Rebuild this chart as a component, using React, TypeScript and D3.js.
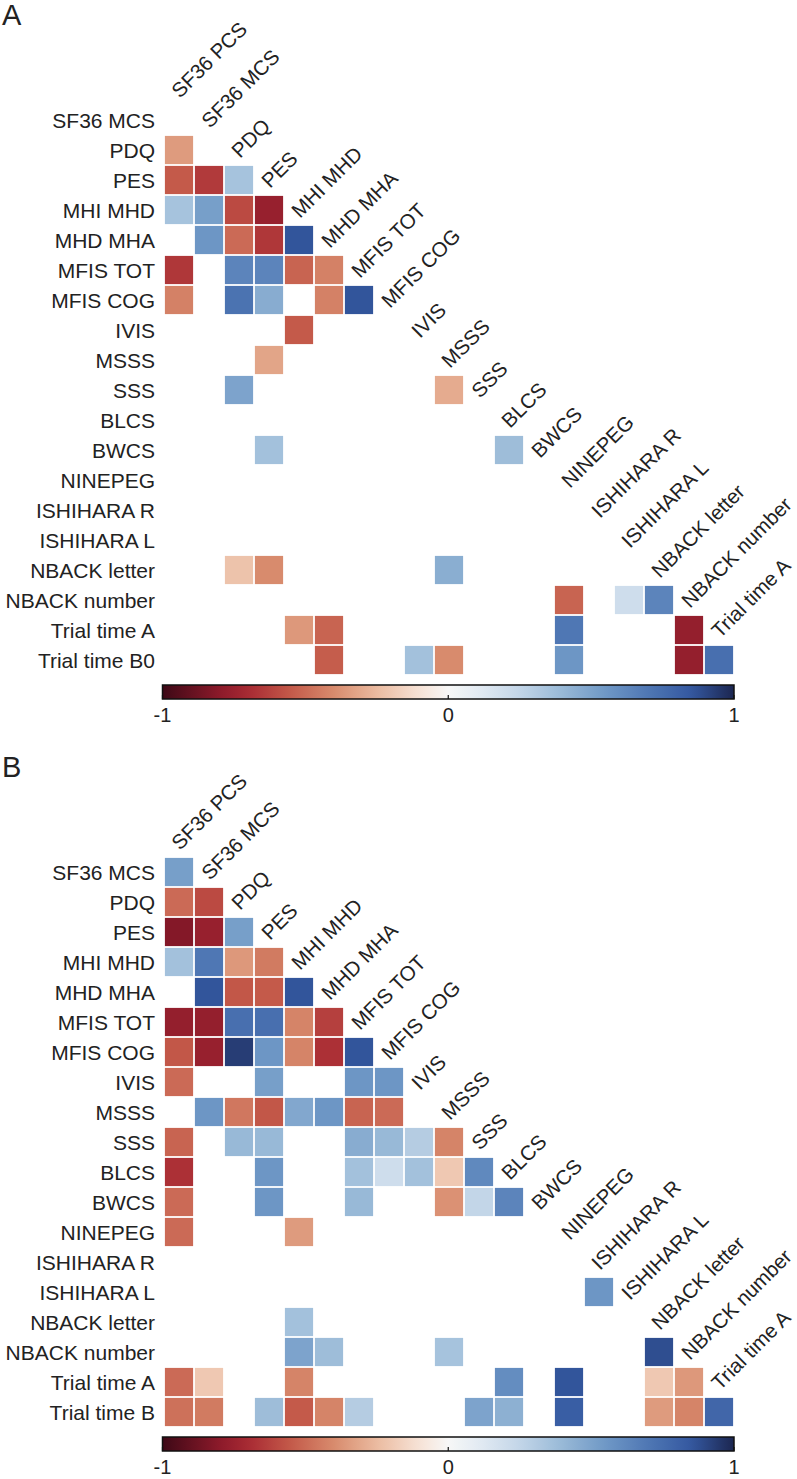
import React from "react";
import * as d3 from "d3";

// Variables (columns use indexes 0..18, rows use 1..19)
const colLabels = [
  "SF36 PCS", "SF36 MCS", "PDQ", "PES", "MHI MHD", "MHD MHA", "MFIS TOT", "MFIS COG",
  "IVIS", "MSSS", "SSS", "BLCS", "BWCS", "NINEPEG", "ISHIHARA R", "ISHIHARA L",
  "NBACK letter", "NBACK number", "Trial time A",
];
const rowLabelsA = [
  "SF36 MCS", "PDQ", "PES", "MHI MHD", "MHD MHA", "MFIS TOT", "MFIS COG", "IVIS", "MSSS",
  "SSS", "BLCS", "BWCS", "NINEPEG", "ISHIHARA R", "ISHIHARA L", "NBACK letter",
  "NBACK number", "Trial time A", "Trial time B0",
];
const rowLabelsB = [
  "SF36 MCS", "PDQ", "PES", "MHI MHD", "MHD MHA", "MFIS TOT", "MFIS COG", "IVIS", "MSSS",
  "SSS", "BLCS", "BWCS", "NINEPEG", "ISHIHARA R", "ISHIHARA L", "NBACK letter",
  "NBACK number", "Trial time A", "Trial time B",
];

// [row index (0 = SF36 MCS), column index (0 = SF36 PCS), correlation]
const cellsA: [number, number, number][] = [
  [1, 0, -0.35],
  [2, 0, -0.55], [2, 1, -0.65], [2, 2, 0.35],
  [3, 0, 0.35], [3, 1, 0.52], [3, 2, -0.6], [3, 3, -0.76],
  [4, 1, 0.56], [4, 2, -0.5], [4, 3, -0.66], [4, 4, 0.86],
  [5, 0, -0.66], [5, 2, 0.64], [5, 3, 0.64], [5, 4, -0.52], [5, 5, -0.43],
  [6, 0, -0.43], [6, 2, 0.72], [6, 3, 0.46], [6, 5, -0.43], [6, 6, 0.86],
  [7, 4, -0.55],
  [8, 3, -0.32],
  [9, 2, 0.5], [9, 9, -0.3],
  [11, 3, 0.36], [11, 11, 0.38],
  [15, 2, -0.22], [15, 3, -0.4], [15, 9, 0.45],
  [16, 13, -0.52], [16, 15, 0.2], [16, 16, 0.64],
  [17, 4, -0.36], [17, 5, -0.52], [17, 13, 0.7], [17, 17, -0.77],
  [18, 5, -0.54], [18, 8, 0.36], [18, 9, -0.4], [18, 13, 0.56], [18, 17, -0.77], [18, 18, 0.74],
];

const cellsB: [number, number, number][] = [
  [0, 0, 0.52],
  [1, 0, -0.5], [1, 1, -0.6],
  [2, 0, -0.82], [2, 1, -0.76], [2, 2, 0.52],
  [3, 0, 0.36], [3, 1, 0.7], [3, 2, -0.36], [3, 3, -0.45],
  [4, 1, 0.86], [4, 2, -0.56], [4, 3, -0.55], [4, 4, 0.86],
  [5, 0, -0.77], [5, 1, -0.77], [5, 2, 0.74], [5, 3, 0.74], [5, 4, -0.42], [5, 5, -0.63],
  [6, 0, -0.56], [6, 1, -0.76], [6, 2, 0.93], [6, 3, 0.56], [6, 4, -0.42], [6, 5, -0.68], [6, 6, 0.86],
  [7, 0, -0.5], [7, 3, 0.52], [7, 6, 0.56], [7, 7, 0.56],
  [8, 1, 0.56], [8, 2, -0.46], [8, 3, -0.56], [8, 4, 0.48], [8, 5, 0.56], [8, 6, -0.52], [8, 7, -0.5],
  [9, 0, -0.52], [9, 2, 0.4], [9, 3, 0.4], [9, 6, 0.46], [9, 7, 0.4], [9, 8, 0.3], [9, 9, -0.42],
  [10, 0, -0.68], [10, 3, 0.56], [10, 6, 0.36], [10, 7, 0.2], [10, 8, 0.36], [10, 9, -0.2], [10, 10, 0.62],
  [11, 0, -0.5], [11, 3, 0.56], [11, 6, 0.4], [11, 9, -0.38], [11, 10, 0.25], [11, 11, 0.64],
  [12, 0, -0.5], [12, 4, -0.35],
  [14, 14, 0.56],
  [15, 4, 0.36],
  [16, 4, 0.5], [16, 5, 0.38], [16, 9, 0.35], [16, 16, 0.88],
  [17, 0, -0.5], [17, 1, -0.2], [17, 4, -0.42], [17, 11, 0.6], [17, 13, 0.86], [17, 16, -0.2], [17, 17, -0.36],
  [18, 0, -0.48], [18, 1, -0.45], [18, 3, 0.38], [18, 4, -0.55], [18, 5, -0.42], [18, 6, 0.3],
  [18, 10, 0.5], [18, 11, 0.44], [18, 13, 0.82], [18, 16, -0.35], [18, 17, -0.42], [18, 18, 0.78],
];

const colorbarTicks = [-1, 0, 1];

const colorStops = [-1, -0.8, -0.7, -0.55, -0.4, -0.25, -0.1, 0, 0.1, 0.25, 0.4, 0.55, 0.7, 0.85, 1];
const colorRange = [
  "#3d0816", "#8c1a2a", "#a82a33", "#c45a4a", "#d88b6d", "#ebbba0", "#f7e3d7", "#f7f7f7",
  "#e4ecf3", "#c3d6e8", "#98b9d7", "#6f98c6", "#4f77b4", "#3458a0", "#1c2650",
];

const W = 797;
const H = 1479;
const X0 = 164;
const STEP = 30;
const FONT = "'Liberation Sans', Arial, Helvetica, sans-serif";
const TEXT = "#222";

const color = d3
  .scaleLinear<string>()
  .domain(colorStops)
  .range(colorRange)
  .interpolate(d3.interpolateRgb);

function Panel({ top, letter, rowLabels, cells, gid }: { top: number; letter: string; rowLabels: string[]; cells: [number, number, number][]; gid: string }) {
  const x = d3.scaleBand<number>().domain(d3.range(colLabels.length)).range([X0, X0 + STEP * colLabels.length]);
  const y = d3.scaleBand<number>().domain(d3.range(rowLabels.length)).range([top, top + STEP * rowLabels.length]);
  const bw = x.bandwidth();
  const bottom = top + STEP * rowLabels.length;
  const cbTop = bottom + 10;
  const cbH = 14;
  const cb = d3.scaleLinear().domain([-1, 1]).range([162.5, 734]);
  const gradStops = d3.range(0, 1.0001, 0.02);
  return (
    <g>
      <defs>
        <linearGradient id={gid} x1="0" x2="1" y1="0" y2="0">
          {gradStops.map((t) => (
            <stop key={t} offset={t} stopColor={color(-1 + 2 * t)} />
          ))}
        </linearGradient>
      </defs>
      <text x={2} y={top - 80} fontSize={29} fontFamily={FONT} fill={TEXT}>{letter}</text>
      {rowLabels.map((l, i) => (
        <text key={l} x={155} y={(y(i) as number) + bw / 2} dy="0.36em" textAnchor="end" fontSize={21} fontFamily={FONT} fill={TEXT}>{l}</text>
      ))}
      {colLabels.map((l, j) => (
        <text key={l} transform={`translate(${(x(j) as number) + 16},${(y(j) as number) - 6}) rotate(-45)`} fontSize={20.5} fontFamily={FONT} fill={TEXT}>{l}</text>
      ))}
      {cells.map(([r, c, v]) => (
        <rect key={`${r}-${c}`} x={(x(c) as number) + 0.9} y={(y(r) as number) + 0.9} width={bw - 1.8} height={bw - 1.8} fill={color(v)} />
      ))}
      <rect x={cb(-1)} y={cbTop} width={cb(1) - cb(-1)} height={cbH} fill={`url(#${gid})`} stroke="#111" strokeWidth={1.5} />
      {colorbarTicks.map((t) => (
        <g key={t}>
          <line x1={cb(t)} x2={cb(t)} y1={cbTop + cbH} y2={cbTop + cbH - 4} stroke="#111" strokeWidth={1.2} />
          <text x={cb(t)} y={cbTop + cbH + 23} textAnchor="middle" fontSize={20} fontFamily={FONT} fill={TEXT}>{t}</text>
        </g>
      ))}
    </g>
  );
}

export default function App() {
  return (
    <svg width={W} height={H} viewBox={`0 0 ${W} ${H}`} style={{ position: "absolute", left: 0, top: 0, background: "#fff" }}>
      <rect width={W} height={H} fill="#fff" />
      <Panel top={105} letter="A" rowLabels={rowLabelsA} cells={cellsA} gid="gradA" />
      <Panel top={857} letter="B" rowLabels={rowLabelsB} cells={cellsB} gid="gradB" />
    </svg>
  );
}
